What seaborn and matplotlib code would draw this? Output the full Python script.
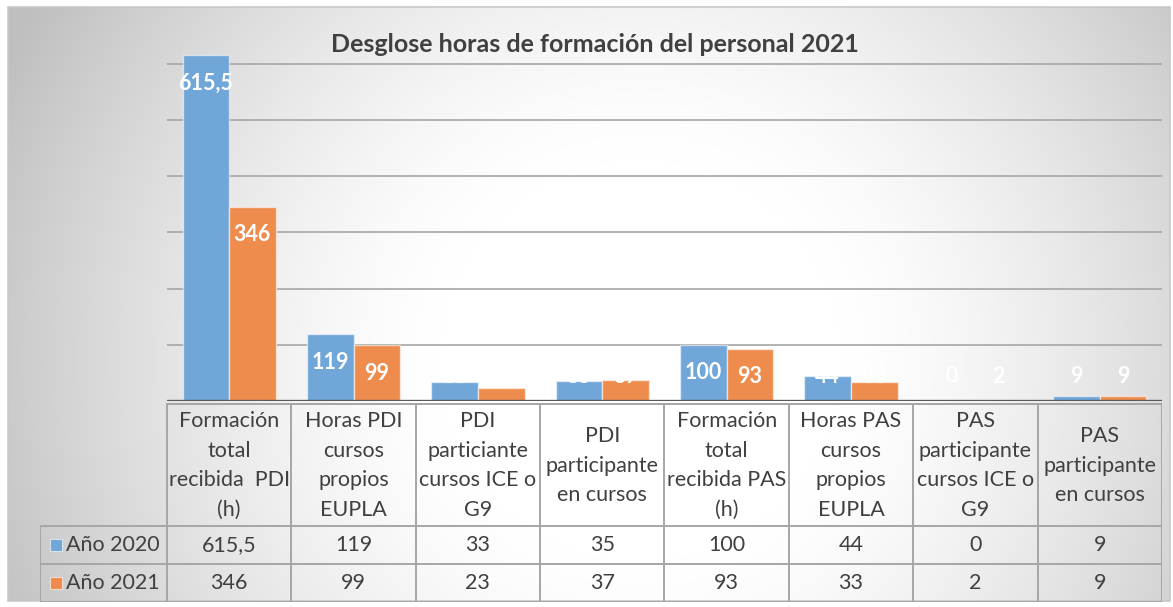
import numpy as np
import pandas as pd
import matplotlib
matplotlib.use("Agg")
import matplotlib.pyplot as plt
from matplotlib.patches import Rectangle
import seaborn as sns

# --- data -------------------------------------------------------------
categories = [
    "Formación\ntotal\nrecibida  PDI\n(h)",
    "Horas PDI\ncursos\npropios\nEUPLA",
    "PDI\nparticiante\ncursos ICE o\nG9",
    "PDI\nparticipante\nen cursos",
    "Formación\ntotal\nrecibida PAS\n(h)",
    "Horas PAS\ncursos\npropios\nEUPLA",
    "PAS\nparticipante\ncursos ICE o\nG9",
    "PAS\nparticipante\nen cursos",
]
series_names = ["Año 2020", "Año 2021"]
values_2020 = [615.5, 119, 33, 35, 100, 44, 0, 9]
values_2021 = [346, 99, 23, 37, 93, 33, 2, 9]
title = "Desglose horas de formación del personal 2021"

colors = ["#70A6D8", "#EE8C4D"]
text_color = "#404040"
line_grey = "#A6A6A6"

df = pd.DataFrame({
    "cat": categories * 2,
    "year": [series_names[0]] * len(categories) + [series_names[1]] * len(categories),
    "value": values_2020 + values_2021,
})


def fmt(v):
    s = f"{v:g}"
    return s.replace(".", ",")


sns.set_theme(style="white")
plt.rcParams["font.family"] = ["Lato", "DejaVu Sans"]

W, H = 1173, 607
fig = plt.figure(figsize=(W / 100, H / 100), dpi=100)
fig.patch.set_facecolor("white")


def fx(px):
    return px / W


def fy(py):
    return 1 - py / H


# --- chart-area background: white centre fading to grey at the edges ---
bg = fig.add_axes([0, 0, 1, 1], zorder=-5)
bg.set_xlim(0, W)
bg.set_ylim(H, 0)
bg.axis("off")
yy, xx = np.mgrid[0:H, 0:W]
d = np.hypot(xx - 640, yy - 360)
shade = 1.0 - 0.25 * np.clip((d - 200) / 500.0, 0, 1) ** 1.4
img = np.dstack([shade] * 3)
x0, x1, y0, y1 = 8, 1170, 7, 601
bg.imshow(img[y0:y1, x0:x1], extent=(x0, x1, y1, y0), interpolation="bilinear", aspect="auto")
bg.add_patch(Rectangle((x0, y0), x1 - x0, y1 - y0, fill=False, edgecolor="#C8C8C8", lw=1.2))

# --- bar area ----------------------------------------------------------
left_px, right_px, base_px = 167, 1162, 401
ymax = 640
px_per_unit = 0.5617
top_px = base_px - ymax * px_per_unit
ax = fig.add_axes([fx(left_px), fy(base_px), fx(right_px - left_px), (base_px - top_px) / H])
ax.patch.set_alpha(0)

sns.barplot(data=df, x="cat", y="value", hue="year", order=categories,
            hue_order=series_names, palette=colors, saturation=1, width=0.75,
            edgecolor=(1, 1, 1, 0.55), linewidth=1.0, legend=False, ax=ax)

ax.set_xlim(-0.5, len(categories) - 0.5)
ax.set_ylim(0, ymax)
ax.set_yticks(range(0, 700, 100))
ax.yaxis.grid(True, color=line_grey, lw=1.2)
ax.set_axisbelow(True)
ax.tick_params(left=False, bottom=False, labelleft=False, labelbottom=False)
ax.set_xlabel("")
ax.set_ylabel("")
for s in ax.spines.values():
    s.set_visible(False)
ax.axhline(0, color="#5A5A5A", lw=2.4, zorder=3)

# value labels inside the bar ends
for container in ax.containers:
    for bar in container:
        v = bar.get_height()
        xc = bar.get_x() + bar.get_width() / 2
        ax.text(xc, max(v - 50, 43), fmt(v), ha="center", va="center",
                color="white", fontsize=15.5, fontweight="bold", zorder=4)

# --- data table under the axis -----------------------------------------
n = len(categories)
col_w = (right_px - left_px) / n
tab_left_px = 40
tab_top, tab_bot = 403, 602
ax_t = fig.add_axes([fx(tab_left_px), fy(tab_bot), fx(right_px - tab_left_px), (tab_bot - tab_top) / H])
ax_t.patch.set_alpha(0)
ax_t.axis("off")
x_left = -0.5 - (left_px - tab_left_px) / col_w
ax_t.set_xlim(x_left, n - 0.5)
ax_t.set_ylim(tab_bot - tab_top, 0)
h_head = 123
h_row = (tab_bot - tab_top - h_head) / 2
row_mid = [h_head + h_row / 2, h_head + 1.5 * h_row]

lw_t = 1.4
ax_t.plot([-0.5, n - 0.5], [0.8, 0.8], color=line_grey, lw=lw_t)
for yline in [h_head, h_head + h_row, h_head + 2 * h_row]:
    ax_t.plot([x_left, n - 0.5], [yline, yline], color=line_grey, lw=lw_t)
for i in range(n + 1):
    ax_t.plot([i - 0.5, i - 0.5], [0, h_head + 2 * h_row], color=line_grey, lw=lw_t)
ax_t.plot([x_left, x_left], [h_head, h_head + 2 * h_row], color=line_grey, lw=lw_t)

tfs = 15.5
for i, cat in enumerate(categories):
    ax_t.text(i, h_head / 2 + 1, cat, ha="center", va="center", fontsize=tfs,
              color=text_color, linespacing=1.6)
    for r, vals in enumerate([values_2020, values_2021]):
        ax_t.text(i, row_mid[r], fmt(vals[i]), ha="center", va="center",
                  fontsize=tfs, color=text_color)

# legend keys in the first column
sq = 12 / col_w
for r, (name, c) in enumerate(zip(series_names, colors)):
    ax_t.add_patch(Rectangle((x_left + 10 / col_w, row_mid[r] - 6), sq, 12,
                             facecolor=c, edgecolor=(1, 1, 1, 0.6), lw=0.8))
    ax_t.text(x_left + 26 / col_w, row_mid[r], name, ha="left", va="center",
              fontsize=tfs, color=text_color)

# --- title -------------------------------------------------------------
fig.text(fx(595), fy(45), title, ha="center", va="center", fontsize=18,
         fontweight="bold", color=text_color)

fig.savefig("out.png", dpi=100)
